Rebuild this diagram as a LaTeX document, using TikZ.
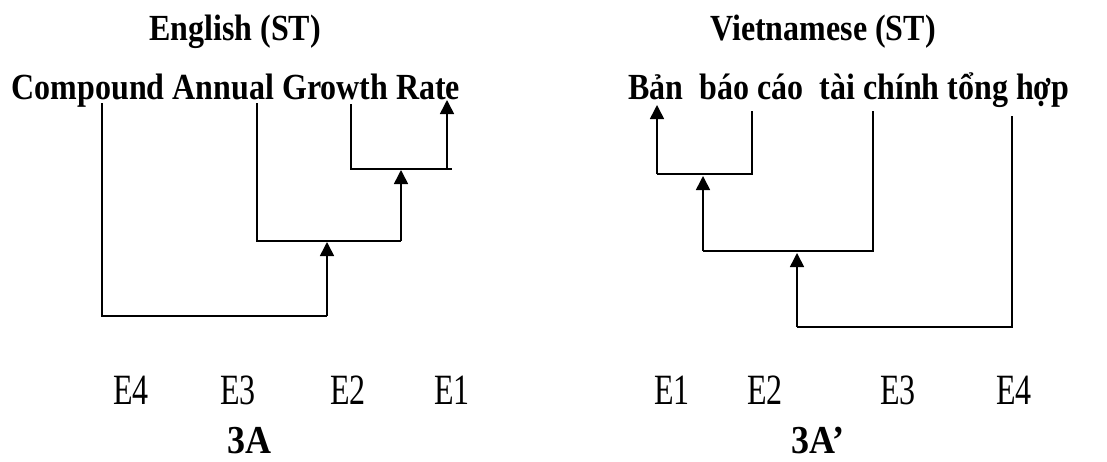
\documentclass[tikz,border=0pt]{standalone}
\usepackage{fontspec}
\setmainfont{Liberation Serif}
\usetikzlibrary{arrows.meta}
\begin{document}
\begin{tikzpicture}[x=1pt,y=-1pt,
  word/.style={inner sep=0pt,anchor=base,yscale=1.15,font=\fontsize{32}{38}\selectfont\bfseries},
  elabel/.style={inner sep=0pt,anchor=base,font=\fontsize{32}{38}\selectfont,yscale=1.35},
  caption/.style={inner sep=0pt,anchor=base,font=\fontsize{36}{42}\selectfont\bfseries,yscale=1.1},
  bracket/.style={line width=2pt},
  uparrow/.style={line width=1.6pt,-{Triangle[width=14pt,length=14pt]}}]
\useasboundingbox (0,0) rectangle (1107,461);

% titles and source phrases
\node[word] (tEn) at (235,40) {English (ST)};
\node[word] (tVi) at (823,40) {Vietnamese (ST)};
\node[word] (sEn) at (236,99) {Compound Annual Growth Rate};
\node[word] (sVi) at (849,99) {Bản\ \ báo cáo\ \ tài chính tổng hợp};

% English tree: end points under the words
\coordinate (en4) at (102,103);
\coordinate (en3) at (257,103);
\coordinate (en2) at (351,104);
\coordinate (en1) at (447,100);
\coordinate (enJ1) at (447,169);
\coordinate (enJ1r) at (452,169);
\coordinate (enJ2) at (401,241);
\coordinate (enJ2t) at (401,170);
\coordinate (enJ3) at (327,316);
\coordinate (enJ3t) at (327,242);

\draw[bracket] (en2) |- (enJ1r);
\draw[uparrow] (enJ1) -- (en1);
\draw[bracket] (en3) |- (enJ2);
\draw[uparrow] (enJ2) -- (enJ2t);
\draw[bracket] (en4) |- (enJ3);
\draw[uparrow] (enJ3) -- (enJ3t);

% Vietnamese tree
\coordinate (vi1) at (657,105);
\coordinate (vi2) at (752,111);
\coordinate (vi3) at (873,111);
\coordinate (vi4) at (1012,116);
\coordinate (viJ1) at (657,174);
\coordinate (viJ2) at (703,251);
\coordinate (viJ2t) at (703,176);
\coordinate (viJ3) at (797,327);
\coordinate (viJ3t) at (797,253);

\draw[bracket] (vi2) |- (viJ1);
\draw[uparrow] (viJ1) -- (vi1);
\draw[bracket] (vi3) |- (viJ2);
\draw[uparrow] (viJ2) -- (viJ2t);
\draw[bracket] (vi4) |- (viJ3);
\draw[uparrow] (viJ3) -- (viJ3t);

% element labels
\node[elabel] (le4) at (131,404) {E4};
\node[elabel] (le3) at (238,404) {E3};
\node[elabel] (le2) at (348,404) {E2};
\node[elabel] (le1) at (452,404) {E1};
\node[elabel] (re1) at (672,404) {E1};
\node[elabel] (re2) at (765,404) {E2};
\node[elabel] (re3) at (898,404) {E3};
\node[elabel] (re4) at (1014,404) {E4};

% captions
\node[caption] (cA) at (249,453) {3A};
\node[caption] (cB) at (818,453) {3A’};
\end{tikzpicture}
\end{document}
